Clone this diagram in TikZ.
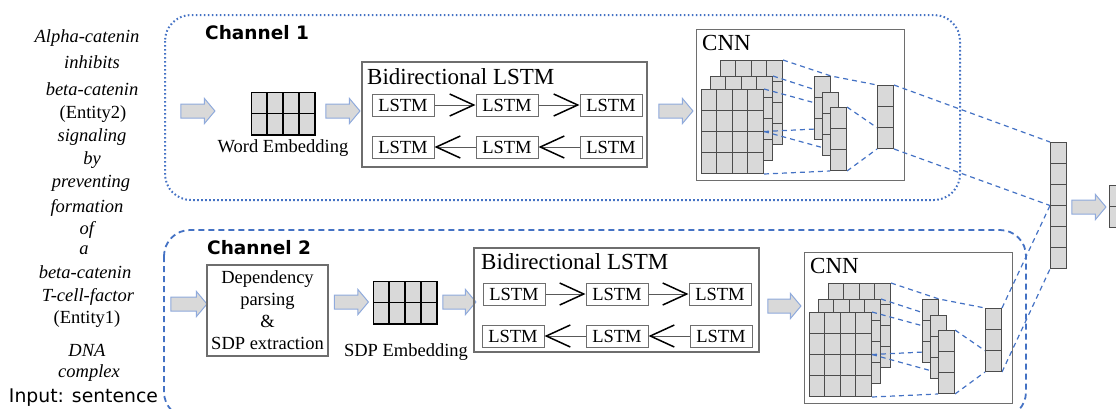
\documentclass[tikz,border=0pt]{standalone}
\usepackage{fontspec}
\setmainfont{Liberation Serif}
\newfontfamily\dejavu{DejaVu Sans}
\usetikzlibrary{positioning,calc,shapes.arrows,arrows.meta}
\definecolor{chanblue}{HTML}{4472C4}
\definecolor{arrowblue}{HTML}{8FAADC}
\definecolor{cellgray}{HTML}{D9D9D9}
\definecolor{framegray}{HTML}{6E6E6E}
\pgfdeclarelayer{maps}
\pgfdeclarelayer{cells}
\pgfsetlayers{maps,main,cells}

\tikzstyle{chanone} = [draw=chanblue, line width=2pt, dash pattern=on 1.6pt off 2.4pt, rounded corners=26pt]
\tikzstyle{chantwo} = [draw=chanblue, line width=1.8pt, dash pattern=on 6pt off 4pt, rounded corners=26pt]
\tikzstyle{chanlabel} = [font=\dejavu\bfseries\fontsize{18.5}{20}\selectfont, anchor=west, inner sep=0]
\tikzstyle{sentence} = [font=\fontsize{18.5}{22}\selectfont, anchor=base, inner sep=0]
\tikzstyle{graybox} = [draw=framegray, line width=1.2pt, inner sep=0]
\tikzstyle{boxtitle} = [font=\fontsize{23}{24}\selectfont, anchor=west, inner sep=0]
\tikzstyle{lstm} = [draw=framegray, line width=1pt, inner sep=0, minimum width=62pt, minimum height=22pt, font=\fontsize{18.5}{20}\selectfont]
\tikzstyle{rnn} = [draw=black!65, line width=0.8pt, -{Straight Barb[length=24pt,width=22pt,line width=1.5pt,color=black]}]
\tikzstyle{flow} = [single arrow, draw=arrowblue, fill=cellgray, line width=1pt, inner xsep=0pt, inner ysep=6.5pt,
    single arrow head extend=5.5pt, single arrow tip angle=100, minimum height=34pt]
\tikzstyle{fmap} = [draw=black!70, line width=1pt, fill=cellgray, inner sep=0]
\tikzstyle{emb} = [draw=black, line width=1.4pt, fill=cellgray, inner sep=0]
\tikzstyle{kernel} = [draw=chanblue, line width=1.2pt, dash pattern=on 5pt off 4pt]

% name, style, top left, columns, rows, cell width, cell height
\newcommand{\cellgrid}[7]{%
  \node[#2, anchor=north west, minimum width=#4*#6pt, minimum height=#5*#7pt] (#1) at (#3) {};
  \foreach \i in {1,...,#4}
    \draw[#2] ([xshift=\i*#6pt]#1.north west) -- ([xshift=\i*#6pt]#1.south west);
  \foreach \j in {1,...,#5}
    \draw[#2] ([yshift=-\j*#7pt]#1.north west) -- ([yshift=-\j*#7pt]#1.north east);
}

% prefix, top left of the front feature map
\newcommand{\cnnpart}[3]{%
  \begin{pgfonlayer}{maps}
    \node[graybox, anchor=north west, minimum width=208pt, minimum height=151pt] (#1cnn) at (#2-5,#3-60) {};
    \node[boxtitle] (#1cnnlab) at (#2+1,#3-46) {CNN};
    \cellgrid{#1mapc}{fmap}{#2+19,#3-29}{4}{4}{15.5}{21}
    \cellgrid{#1mapb}{fmap}{#2+9,#3-13}{4}{4}{15.5}{21}
    \cellgrid{#1mapa}{fmap}{#2,#3}{4}{4}{15.5}{21}
  \end{pgfonlayer}
  \begin{pgfonlayer}{cells}
    \cellgrid{#1cola}{fmap}{#2+113,#3-13}{1}{3}{16}{21}
    \cellgrid{#1colb}{fmap}{#2+121,#3+3}{1}{3}{16}{21}
    \cellgrid{#1colc}{fmap}{#2+129,#3+18}{1}{3}{16}{21}
    \cellgrid{#1pool}{fmap}{#2+176,#3-4}{1}{3}{16}{21}
  \end{pgfonlayer}
  \draw[kernel] (#1mapc.north east) -- (#1cola.north east) -- (#1pool.north west);
  \draw[kernel] (#1mapb.north east) -- (#1colb.north west);
  \draw[kernel] (#1mapa.north east) -- (#1colc.north west);
  \draw[kernel] (#1mapa.east) -- ($(#1colc.north west)!1/3!(#1colc.south west)$);
  \draw[kernel] (#1mapa.east) -- ($(#1colc.north west)!2/3!(#1colc.south west)$);
  \draw[kernel] (#1mapa.south east) -- (#1colc.south west);
  \draw[kernel] (#1colc.north east) -- ($(#1pool.north west)!2/3!(#1pool.south west)$);
  \draw[kernel] (#1colc.south east) -- (#1pool.south west);
}

\begin{document}
\begin{tikzpicture}[x=1pt,y=-1pt]
\useasboundingbox (0,0) rectangle (1116,408);

% input sentence
\foreach \x/\y/\t [count=\n] in {87/42.5/{\textit{Alpha-catenin}}, 92/68.5/{\textit{inhibits}},
    92/95.5/{\textit{beta-catenin}}, 93/118.5/{(Entity2)}, 92/141.5/{\textit{signaling}},
    92/164.5/{\textit{by}}, 91/187.5/{\textit{preventing}}, 87/212.5/{\textit{formation}},
    88/234.5/{\textit{of}}, 84/254.5/{\textit{a}}, 85/278.5/{\textit{beta-catenin}},
    88/301.5/{\textit{T-cell-factor}}, 87/323.5/{(Entity1)}, 87/356/{\textit{DNA}},
    89/377/{\textit{complex}}}
  \node[sentence] (w\n) at (\x,\y) {\t};
\node[anchor=base, inner sep=0, font=\dejavu\fontsize{18.8}{20}\selectfont] (input) at (83.5,402) {Input: sentence};

% channel 1
\draw[chanone] (165,15) rectangle (960,200);
\node[chanlabel] (ch1lab) at (205,33) {Channel 1};
\node[flow] (ar11) at (195,111) {};
\cellgrid{wemb}{emb}{251,92}{4}{2}{16}{21.5}
\node[sentence] (wemblab) at (283,152.5) {Word Embedding};
\node[flow] (ar12) at (340,111) {};
\node[graybox, minimum width=285pt, minimum height=105pt] (bi1) at (504.5,114.5) {};
\node[boxtitle] (bi1lab) at (367,77) {Bidirectional LSTM};
\node[lstm] (f11) at (403,105) {LSTM};
\node[lstm, right=41pt of f11] (f12) {LSTM};
\node[lstm, right=41pt of f12] (f13) {LSTM};
\node[lstm] (b11) at (403,147) {LSTM};
\node[lstm, right=41pt of b11] (b12) {LSTM};
\node[lstm, right=41pt of b12] (b13) {LSTM};
\draw[rnn] (f11) -- (f12);
\draw[rnn] (f12) -- (f13);
\draw[rnn] (b13) -- (b12);
\draw[rnn] (b12) -- (b11);
\node[flow] (ar13) at (673,111) {};
\cnnpart{c1}{701}{89}

% channel 2
\draw[chantwo] (164,230) rectangle (1026,418);
\node[chanlabel] (ch2lab) at (207,248) {Channel 2};
\node[flow, minimum height=36pt] (ar21) at (186,304) {};
\node[graybox, minimum width=121pt, minimum height=91pt, align=center, font=\fontsize{18.5}{22}\selectfont] (dep) at (267.5,310.5)
  {Dependency\\parsing\\\&\\SDP extraction};
\node[flow] (ar22) at (348.5,302) {};
\cellgrid{semb}{emb}{373,281}{4}{2}{16}{21.5}
\node[sentence] (semblab) at (406,356) {SDP Embedding};
\node[flow, minimum height=33pt] (ar23) at (456.5,302) {};
\node[graybox, minimum width=285pt, minimum height=104pt] (bi2) at (616.5,300) {};
\node[boxtitle] (bi2lab) at (481,262) {Bidirectional LSTM};
\node[lstm] (f21) at (514,294) {LSTM};
\node[lstm, right=40pt of f21] (f22) {LSTM};
\node[lstm, right=40pt of f22] (f23) {LSTM};
\node[lstm] (b21) at (513,336) {LSTM};
\node[lstm, right=41pt of b21] (b22) {LSTM};
\node[lstm, right=41pt of b22] (b23) {LSTM};
\draw[rnn] (f21) -- (f22);
\draw[rnn] (f22) -- (f23);
\draw[rnn] (b23) -- (b22);
\draw[rnn] (b22) -- (b21);
\node[flow, minimum height=33pt] (ar24) at (781.5,306) {};
\cnnpart{c2}{809}{312}

% joint vector
\begin{pgfonlayer}{cells}
  \cellgrid{joint}{fmap}{1050,142}{1}{6}{16}{21}
  \cellgrid{out}{fmap}{1109,185}{1}{2}{16}{21}
\end{pgfonlayer}
\draw[kernel] (c1pool.north east) -- (joint.north west);
\draw[kernel] (c1pool.south east) -- (joint.west);
\draw[kernel] (c2pool.north east) -- (joint.west);
\draw[kernel] (c2pool.south east) -- (joint.south west);
\node[flow] (ar3) at (1086,207) {};
\end{tikzpicture}
\end{document}
